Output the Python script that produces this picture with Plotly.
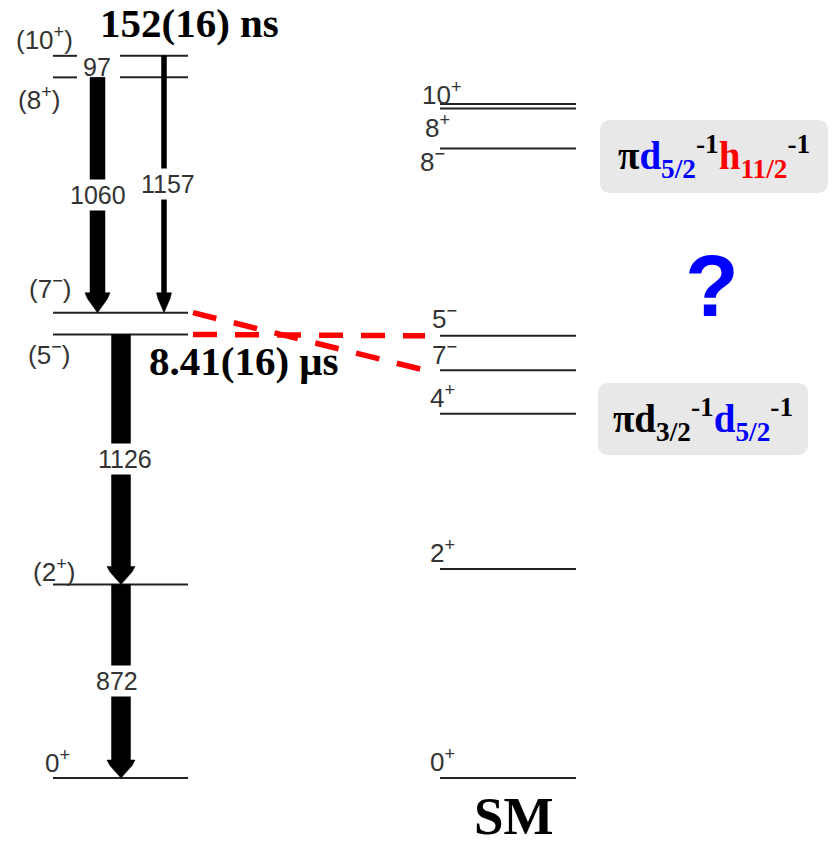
import plotly.graph_objects as go

# ---------------------------------------------------------------
# Level scheme: experimental levels (left) and shell-model levels (right)
# ---------------------------------------------------------------
FIG_W, FIG_H = 832, 841
PX_PER_KEV = 0.222          # vertical scale of the scheme
ZERO_ROW = 778              # pixel row of the ground state

# experimental levels (keV) and spin labels
exp_energies = [0, 872, 1998, 2096, 3156, 3253]
exp_spins = ["0<sup>+</sup>", "(2<sup>+</sup>)", "(5<sup>−</sup>)",
             "(7<sup>−</sup>)", "(8<sup>+</sup>)", "(10<sup>+</sup>)"]

# gamma transitions: initial level energy and gamma energy (keV)
gamma_from = [872, 1998, 3156, 3253]
gamma_energy = [872, 1126, 1060, 1157]
gamma_x = [121, 121, 97.5, 164]          # horizontal position
gamma_body = [19, 19, 15, 5]             # body width (px)
gamma_head = [28, 28, 25, 15]            # head width (px)
gamma_head_len = [18, 18, 20, 20]        # head length (px)
gamma_label_dx = [-4, 4, 0, 4]

# weak 97 keV transition between the two top levels
weak_from, weak_energy = 3253, 97

# shell-model levels (keV) and spin labels
sm_energies = [0, 941, 1641, 1837, 1992, 2836, 3016, 3036]
sm_spins = ["0<sup>+</sup>", "2<sup>+</sup>", "4<sup>+</sup>", "7<sup>−</sup>",
            "5<sup>−</sup>", "8<sup>−</sup>", "8<sup>+</sup>", "10<sup>+</sup>"]

# label placement (px): horizontal left edge, vertical offset above the line
exp_label_x = [43, 31, 26, 27, 16, 14]
exp_label_dy = [17, 14, -19, 25, -21, 17]
sm_label_x = [428, 428, 428, 430, 430, 418, 423, 420]
sm_label_dy = [18, 18, 17, 17, 18, -12, -18, 11]


def px(d):
    """Convert a vertical pixel distance into keV."""
    return d / PX_PER_KEV


def row(r):
    """Energy value sitting at a given pixel row."""
    return (ZERO_ROW - r) / PX_PER_KEV


fig = go.Figure()
LINE_C = "#222222"
TEXT_C = "#333333"
LABEL_FONT = dict(family="Liberation Sans", size=26, color=TEXT_C)

# experimental level lines (top two are split around the 97 label)
for e in exp_energies:
    if e >= 3156:
        segs = [(53, 77), (120, 188)]
    else:
        segs = [(53, 188)]
    for x0, x1 in segs:
        fig.add_trace(go.Scatter(x=[x0, x1], y=[e, e], mode="lines",
                                 line=dict(color=LINE_C, width=2),
                                 hoverinfo="skip"))

# shell-model level lines
for e in sm_energies:
    fig.add_trace(go.Scatter(x=[440, 576], y=[e, e], mode="lines",
                             line=dict(color=LINE_C, width=2),
                             hoverinfo="skip"))

# gamma-ray arrows as filled polygons
for ei, eg, x, bw, hw, hl in zip(gamma_from, gamma_energy, gamma_x,
                                 gamma_body, gamma_head, gamma_head_len):
    ef = ei - eg
    yh = ef + px(hl)
    b, h = bw / 2, hw / 2
    xs = [x - b, x + b, x + b, x + h, x + h * 0.8, x, x - h * 0.8, x - h, x - b, x - b]
    ys = [ei, ei, yh, yh, yh - px(hl * 0.3), ef, yh - px(hl * 0.3), yh, yh, ei]
    fig.add_trace(go.Scatter(x=xs, y=ys, mode="lines", fill="toself",
                             fillcolor="black", line=dict(color="black", width=0.5),
                             hoverinfo="skip"))

# red dashed links between experimental and shell-model states
links = [(2096, 1837), (1998, 1992)]
for e_exp, e_sm in links:
    fig.add_trace(go.Scatter(x=[193, 425], y=[e_exp, e_sm], mode="lines",
                             line=dict(color="#ff0000", width=5.5, dash="24px,18px"),
                             hoverinfo="skip"))

annotations = []

# gamma energy labels (white background interrupts the arrow)
for ei, eg, x, dx in zip(gamma_from, gamma_energy, gamma_x, gamma_label_dx):
    annotations.append(dict(x=x + dx, y=ei - eg / 2, text=str(eg),
                            showarrow=False, bgcolor="white", borderpad=1,
                            font=dict(family="Liberation Sans", size=25, color=TEXT_C)))
annotations.append(dict(x=97, y=weak_from - weak_energy / 2, text=str(weak_energy),
                        showarrow=False,
                        font=dict(family="Liberation Sans", size=25, color=TEXT_C)))

# spin labels
for e, s, lx, dy in zip(exp_energies, exp_spins, exp_label_x, exp_label_dy):
    annotations.append(dict(x=lx, y=e + px(dy), text=s, xanchor="left",
                            showarrow=False, font=LABEL_FONT))
for e, s, lx, dy in zip(sm_energies, sm_spins, sm_label_x, sm_label_dy):
    annotations.append(dict(x=lx, y=e + px(dy), text=s, xanchor="left",
                            showarrow=False, font=LABEL_FONT))

SERIF = "Liberation Serif"
annotations += [
    dict(x=189, y=row(23), text="<b>152(16) ns</b>", showarrow=False,
         font=dict(family=SERIF, size=41, color="black")),
    dict(x=244, y=row(361), text="<b>8.41(16) μs</b>", showarrow=False,
         font=dict(family=SERIF, size=41, color="black")),
    dict(x=514, y=row(816), text="<b>SM</b>", showarrow=False,
         font=dict(family=SERIF, size=53, color="black")),
    dict(x=712, y=row(285), text="<b>?</b>", showarrow=False,
         font=dict(family="Liberation Sans", size=88, color="#0000ff")),
]

BLUE, RED = "#0000ff", "#ff0000"
cfg_high = (f"<b>π<span style='color:{BLUE}'>d<sub>5/2</sub></span><sup>-1</sup>"
            f"<span style='color:{RED}'>h<sub>11/2</sub></span><sup>-1</sup></b>")
cfg_low = (f"<b>πd<sub>3/2</sub><sup>-1</sup>"
           f"<span style='color:{BLUE}'>d<sub>5/2</sub></span><sup>-1</sup></b>")

boxes = [(600, 828, 120, 193, cfg_high), (598, 808, 383, 455, cfg_low)]
shapes = []
for x0, x1, r0, r1, txt in boxes:
    y0, y1 = row(r1), row(r0)
    rx, ry = 11, px(11)
    path = (f"M {x0 + rx},{y0} L {x1 - rx},{y0} Q {x1},{y0} {x1},{y0 + ry} "
            f"L {x1},{y1 - ry} Q {x1},{y1} {x1 - rx},{y1} L {x0 + rx},{y1} "
            f"Q {x0},{y1} {x0},{y1 - ry} L {x0},{y0 + ry} Q {x0},{y0} {x0 + rx},{y0} Z")
    shapes.append(dict(type="path", path=path, xref="x", yref="y",
                       fillcolor="#e8e8e8", line=dict(width=0), layer="below"))
    annotations.append(dict(x=(x0 + x1) / 2, y=(y0 + y1) / 2, text=txt,
                            showarrow=False,
                            font=dict(family=SERIF, size=39, color="black")))

fig.update_layout(
    width=FIG_W, height=FIG_H,
    margin=dict(l=0, r=0, t=0, b=0),
    paper_bgcolor="white", plot_bgcolor="white",
    showlegend=False,
    xaxis=dict(range=[0, FIG_W], visible=False, fixedrange=True),
    yaxis=dict(range=[row(FIG_H), row(0)], visible=False, fixedrange=True),
    annotations=annotations,
    shapes=shapes,
)

fig.write_html("out.html")
